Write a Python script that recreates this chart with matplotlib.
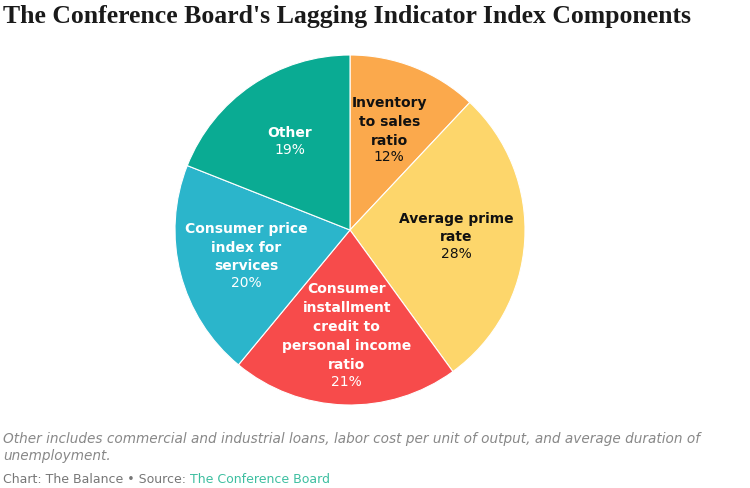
import matplotlib.pyplot as plt
import numpy as np

labels = ["Inventory\nto sales\nratio", "Average prime\nrate",
          "Consumer\ninstallment\ncredit to\npersonal income\nratio",
          "Consumer price\nindex for\nservices", "Other"]
shares = [12, 28, 21, 20, 19]
colors = ["#fba94c", "#fdd66b", "#f74b4b", "#2bb5cb", "#0aab93"]
text_colors = ["#111111", "#111111", "white", "white", "white"]

fig = plt.figure(figsize=(7.5, 4.88), dpi=100)
ax = fig.add_axes([175 / 750, 83 / 488, 350 / 750, 350 / 488])

wedges, _ = ax.pie(shares, colors=colors, startangle=90, counterclock=False,
                   wedgeprops={"edgecolor": "white", "linewidth": 0.8})
ax.set_xlim(-1, 1)
ax.set_ylim(-1, 1)
ax.set_aspect("equal")
ax.axis("off")

fs = 10
lh = 13.2  # line height in points
for w, lab, s, tc in zip(wedges, labels, shares, text_colors):
    ang = np.deg2rad((w.theta1 + w.theta2) / 2)
    x, y = 0.61 * np.cos(ang), 0.61 * np.sin(ang)
    n = lab.count("\n") + 1
    off = (1 - n) * lh / 2
    ax.annotate(lab, (x, y), xytext=(0, off + 1), textcoords="offset points",
                ha="center", va="bottom", fontsize=fs, fontweight="bold",
                color=tc, family="DejaVu Sans", linespacing=1.45)
    ax.annotate(f"{s}%", (x, y), xytext=(0, off - 1), textcoords="offset points",
                ha="center", va="top", fontsize=fs, color=tc, family="DejaVu Sans")

fig.text(0.004, 0.966, "The Conference Board's Lagging Indicator Index Components",
         ha="left", va="center", fontsize=18.5, fontweight="bold",
         family="Liberation Serif", color="#1a1a1a")

fig.text(0.004, 0.083, "Other includes commercial and industrial loans, labor cost per unit of output, and average duration of\nunemployment.",
         ha="left", va="center", fontsize=9.8, style="italic", color="#888888",
         family="DejaVu Sans", linespacing=1.3)
t = fig.text(0.004, 0.017, "Chart: The Balance \u2022 Source: ", ha="left", va="center",
             fontsize=9, color="#777777", family="DejaVu Sans")
fig.canvas.draw()
bb = t.get_window_extent()
fig.text(bb.x1 / 750, 0.017, "The Conference Board", ha="left", va="center",
         fontsize=9, color="#3dbfa0", family="DejaVu Sans")

fig.savefig("out.png", dpi=100)
